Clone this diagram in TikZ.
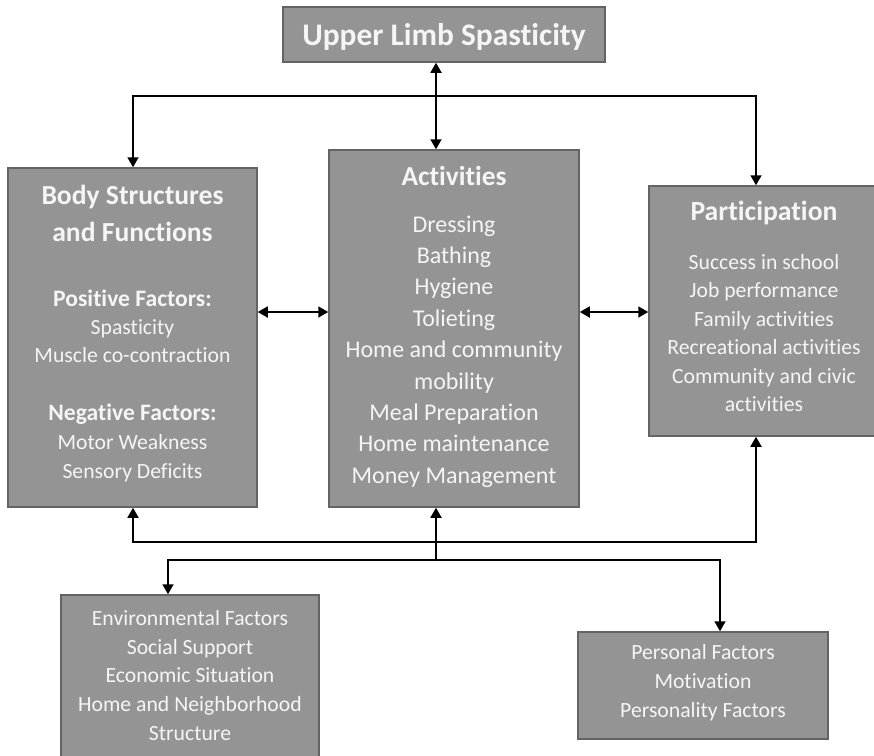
\documentclass[tikz,border=0pt]{standalone}
\usepackage{fontspec}
\setmainfont{Carlito}[Ligatures={NoCommon,NoContextual}]
\usetikzlibrary{arrows.meta}
\definecolor{boxfill}{RGB}{148,148,148}
\definecolor{boxline}{RGB}{100,100,100}
\definecolor{boxtext}{RGB}{245,245,245}
\tikzset{
  gbox/.style={draw=boxline, line width=1.5pt, fill=boxfill, inner sep=0pt},
  txt/.style={text=boxtext, align=center, inner sep=0pt},
  conn/.style={line width=1.8pt, draw=black},
  tip/.style={-{Triangle[length=10pt,width=11pt]}},
  tips/.style={{Triangle[length=10pt,width=11pt]}-{Triangle[length=10pt,width=11pt]}}
}
\newcommand{\fs}[2]{\fontsize{#1}{#2}\selectfont}
\begin{document}
\begin{tikzpicture}[x=1pt,y=-1pt]
\useasboundingbox (0,0) rectangle (874,755);
% boxes
\node[gbox, minimum width=322pt, minimum height=55pt] (ul) at (444,34.5) {};
\node[txt, font=\fs{31.4}{36}\bfseries] (ult) at (444,37) {Upper Limb Spasticity};
\node[gbox, minimum width=249pt, minimum height=339pt] (body) at (132.5,337.5) {};
\node[gbox, minimum width=250pt, minimum height=357pt] (act) at (454,328.5) {};
\node[gbox, minimum width=226pt, minimum height=250pt] (part) at (762,311) {};
\node[gbox, minimum width=258pt, minimum height=170pt] (env) at (190,680) {};
\node[gbox, minimum width=250pt, minimum height=107pt] (pers) at (703,685.5) {};
% texts
\node[txt, font=\fs{27.6}{37}\bfseries] (bodyh) at (132.5,213.5) {Body Structures\\and Functions};
\node[txt, font=\fs{21.7}{28}] (bodyp) at (132.5,326) {\fontsize{23.6}{28}\bfseries Positive Factors:\\Spasticity\\Muscle co-contraction};
\node[txt, font=\fs{21.7}{29}] (bodyn) at (132.5,443) {\fontsize{23.6}{29}\bfseries Negative Factors:\\Motor Weakness\\Sensory Deficits};
\node[txt, font=\fs{27.4}{32}\bfseries] (acth) at (454,176) {Activities};
\node[txt, font=\fs{24}{31.4}] (acti) at (454,351.5) {Dressing\\Bathing\\Hygiene\\Tolieting\\Home and community\\mobility\\Meal Preparation\\Home maintenance\\Money Management};
\node[txt, font=\fs{27.7}{32}\bfseries] (parth) at (764,213) {Participation};
\node[txt, font=\fs{21.7}{28.4}] (parti) at (764,333) {Success in school\\Job performance\\Family activities\\Recreational activities\\Community and civic\\activities};
\node[txt, font=\fs{21.7}{28.75}] (envt) at (190,675.5) {Environmental Factors\\Social Support\\Economic Situation\\Home and Neighborhood\\Structure};
\node[txt, font=\fs{21.7}{29}] (perst) at (703,683) {Personal Factors\\Motivation\\Personality Factors};
% coordinates for connector routes
\coordinate (vx) at (436,0);
\coordinate (topy) at (0,96);
\coordinate (px) at (756,0);
\coordinate (bx) at (133,0);
\coordinate (boty) at (0,542);
\coordinate (lowy) at (0,560);
\coordinate (ex) at (168,0);
\coordinate (rx) at (720,0);
% top connectors
\draw[conn, tips] (ul.south -| vx) -- (act.north -| vx);
\draw[conn, tip] (topy -| px) -- (topy -| bx) -- (body.north -| bx);
\draw[conn, tip] (topy -| bx) -- (topy -| px) -- (part.north -| px);
% side connectors
\draw[conn, tips] (body.east |- 0,312) -- (act.west |- 0,312);
\draw[conn, tips] (act.east |- 0,312) -- (part.west |- 0,312);
% bottom connectors
\draw[conn, tips] (body.south -| bx) -- (boty -| bx) -- (boty -| px) -- (part.south -| px);
\draw[conn, tip] (lowy -| vx) -- (act.south -| vx);
\draw[conn, tip] (lowy -| rx) -- (lowy -| ex) -- (env.north -| ex);
\draw[conn, tip] (lowy -| ex) -- (lowy -| rx) -- (pers.north -| rx);
\end{tikzpicture}
\end{document}
